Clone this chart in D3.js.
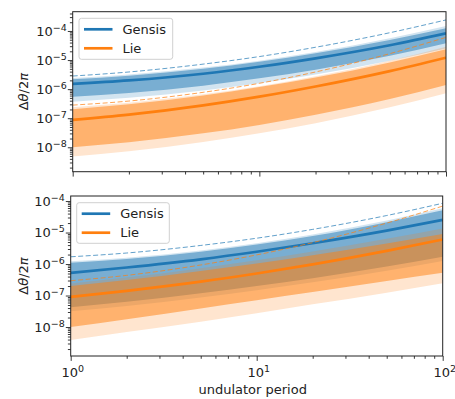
<!DOCTYPE html>
<html>
<head>
<meta charset="utf-8">
<script src="https://cdn.jsdelivr.net/npm/d3@7"></script>
<style>
  body { margin: 0; background: #fff; }
  svg { font-family: "DejaVu Sans", sans-serif; }
</style>
</head>
<body>
<svg width="455" height="399"></svg>
<script>
var periods = [1, 2, 5, 10, 20, 50, 100];

// all series below are log10(Δθ/2π)
// top panel, Gensis
var topGensisDash = [-5.55, -5.41, -5.14, -4.88, -4.56, -4.06, -3.62];
var topGensisHi2  = [-5.62, -5.50, -5.26, -5.02, -4.72, -4.25, -3.83];
var topGensisHi1  = [-5.66, -5.54, -5.30, -5.06, -4.77, -4.31, -3.91];
var topGensisMid  = [-5.82, -5.70, -5.47, -5.23, -4.94, -4.49, -4.08];
var topGensisLo1  = [-6.26, -6.13, -5.88, -5.63, -5.33, -4.85, -4.42];
var topGensisLo2  = [-6.43, -6.30, -6.05, -5.80, -5.50, -5.02, -4.60];
// top panel, Lie
var topLieDash = [-6.55, -6.41, -6.11, -5.80, -5.41, -4.78, -4.22];
var topLieHi2  = [-6.62, -6.47, -6.18, -5.90, -5.56, -5.02, -4.54];
var topLieHi1  = [-6.69, -6.52, -6.22, -5.93, -5.60, -5.08, -4.63];
var topLieMid  = [-7.06, -6.88, -6.56, -6.26, -5.91, -5.38, -4.92];
var topLieLo1  = [-8.00, -7.83, -7.52, -7.23, -6.88, -6.34, -5.86];
var topLieLo2  = [-8.32, -8.14, -7.82, -7.52, -7.17, -6.62, -6.14];
// bottom panel, Gensis
var botGensisDash = [-5.77, -5.65, -5.41, -5.18, -4.90, -4.46, -4.07];
var botGensisHi2  = [-5.91, -5.80, -5.57, -5.34, -5.06, -4.62, -4.23];
var botGensisHi1  = [-5.96, -5.84, -5.61, -5.38, -5.11, -4.67, -4.29];
var botGensisMid  = [-6.28, -6.11, -5.85, -5.61, -5.34, -4.94, -4.60];
var botGensisLo1  = [-7.37, -7.20, -6.93, -6.70, -6.45, -6.08, -5.77];
var botGensisLo2  = [-7.50, -7.33, -7.06, -6.83, -6.58, -6.21, -5.90];
// bottom panel, Lie
var botLieDash = [-6.53, -6.36, -6.03, -5.71, -5.32, -4.70, -4.16];
var botLieHi2  = [-6.62, -6.43, -6.13, -5.88, -5.60, -5.20, -4.87];
var botLieHi1  = [-6.70, -6.51, -6.22, -5.98, -5.72, -5.35, -5.05];
var botLieMid  = [-7.04, -6.85, -6.56, -6.30, -6.01, -5.58, -5.22];
var botLieLo1  = [-8.00, -7.75, -7.41, -7.15, -6.89, -6.54, -6.28];
var botLieLo2  = [-8.41, -8.16, -7.83, -7.56, -7.28, -6.91, -6.61];

var seriesNames = ['Gensis', 'Lie'];
var colors = {Gensis: '#1f77b4', Lie: '#ff7f0e'};
var majorY = [-8, -7, -6, -5, -4];
var majorX = [0, 1, 2];

function makeSeries(name, dash, hi2, hi1, mid, lo1, lo2) {
  return {
    name: name,
    rows: periods.map((p, i) => ({
      x: p,
      dash: Math.pow(10, dash[i]), hi2: Math.pow(10, hi2[i]), hi1: Math.pow(10, hi1[i]),
      mid: Math.pow(10, mid[i]), lo1: Math.pow(10, lo1[i]), lo2: Math.pow(10, lo2[i])
    }))
  };
}

var panels = [
  {
    left: 72.7, right: 446, top: 11.7, bottom: 171.7,
    yDomain: [Math.pow(10, -8.84), Math.pow(10, -3.337)],
    showX: false, legend: {x: 79, y: 18.3, w: 93.7, h: 41},
    series: [
      makeSeries('Gensis', topGensisDash, topGensisHi2, topGensisHi1, topGensisMid, topGensisLo1, topGensisLo2),
      makeSeries('Lie', topLieDash, topLieHi2, topLieHi1, topLieMid, topLieLo1, topLieLo2)
    ]
  },
  {
    left: 70.7, right: 442.7, top: 196, bottom: 356,
    yDomain: [Math.pow(10, -8.92), Math.pow(10, -3.84)],
    showX: true, legend: {x: 76.7, y: 202.7, w: 92.6, h: 40.6},
    series: [
      makeSeries('Gensis', botGensisDash, botGensisHi2, botGensisHi1, botGensisMid, botGensisLo1, botGensisLo2),
      makeSeries('Lie', botLieDash, botLieHi2, botLieHi1, botLieMid, botLieLo1, botLieLo2)
    ]
  }
];

var svg = d3.select('svg');

function powLabel(sel, exp) {
  sel.append('tspan').text('10');
  sel.append('tspan').attr('dy', -5).style('font-size', '9.5px').text(exp < 0 ? '\u2212' + (-exp) : exp);
}

panels.forEach((pn, pi) => {
  var x = d3.scaleLog().domain([1, 100]).range([pn.left, pn.right]);
  var y = d3.scaleLog().domain(pn.yDomain).range([pn.bottom, pn.top]);

  var clipId = 'clip' + pi;
  svg.append('clipPath').attr('id', clipId)
    .append('rect')
    .attr('x', pn.left).attr('y', pn.top)
    .attr('width', pn.right - pn.left).attr('height', pn.bottom - pn.top);

  var g = svg.append('g').attr('clip-path', 'url(#' + clipId + ')');

  var band = (lo, hi) => d3.area().curve(d3.curveMonotoneX)
    .x(d => x(d.x)).y0(d => y(d[lo])).y1(d => y(d[hi]));
  var line = key => d3.line().curve(d3.curveMonotoneX)
    .x(d => x(d.x)).y(d => y(d[key]));

  pn.series.forEach(s => {
    var c = colors[s.name];
    g.append('path').datum(s.rows).attr('d', band('lo2', 'hi2'))
      .attr('fill', c).attr('fill-opacity', 0.2);
    g.append('path').datum(s.rows).attr('d', band('lo1', 'hi1'))
      .attr('fill', c).attr('fill-opacity', 0.5);
    g.append('path').datum(s.rows).attr('d', line('mid'))
      .attr('fill', 'none').attr('stroke', c).attr('stroke-width', 2.7);
    g.append('path').datum(s.rows).attr('d', line('dash'))
      .attr('fill', 'none').attr('stroke', c).attr('stroke-opacity', 0.7)
      .attr('stroke-width', 1).attr('stroke-dasharray', '5,2.5');
  });

  // minor ticks
  var minorX = [];
  [1, 10].forEach(b => d3.range(2, 10).forEach(m => minorX.push(b * m)));
  var minorY = [];
  d3.range(-9, -3).forEach(e => d3.range(2, 10).forEach(m => {
    var v = m * Math.pow(10, e);
    if (v > pn.yDomain[0] && v < pn.yDomain[1]) minorY.push(v);
  }));

  var xAxis = svg.append('g').attr('transform', 'translate(0,' + pn.bottom + ')');
  xAxis.call(d3.axisBottom(x).tickValues(minorX).tickSize(2.8).tickFormat(''));
  xAxis.append('g').call(d3.axisBottom(x).tickValues(majorX.map(e => Math.pow(10, e))).tickSize(4.9).tickFormat(''));

  var yAxis = svg.append('g').attr('transform', 'translate(' + pn.left + ',0)');
  yAxis.call(d3.axisLeft(y).tickValues(minorY).tickSize(2.8).tickFormat(''));
  yAxis.append('g').call(d3.axisLeft(y).tickValues(majorY.map(e => Math.pow(10, e))).tickSize(4.9).tickFormat(''));

  svg.selectAll('.domain').remove();
  svg.selectAll('.tick line').attr('stroke', '#222').attr('stroke-width', 0.9);

  // frame
  svg.append('rect')
    .attr('x', pn.left).attr('y', pn.top)
    .attr('width', pn.right - pn.left).attr('height', pn.bottom - pn.top)
    .attr('fill', 'none').attr('stroke', '#222').attr('stroke-width', 1);

  // y tick labels
  majorY.forEach(e => {
    var t = svg.append('text')
      .attr('x', pn.left - 6).attr('y', y(Math.pow(10, e)) + 4.8)
      .attr('text-anchor', 'end').style('font-size', '13px').attr('fill', '#222');
    powLabel(t, e);
  });

  if (pn.showX) {
    majorX.forEach(e => {
      var t = svg.append('text')
        .attr('x', x(Math.pow(10, e)) + 2).attr('y', pn.bottom + 21)
        .attr('text-anchor', 'middle').style('font-size', '13px').attr('fill', '#222');
      powLabel(t, e);
    });
    svg.append('text')
      .attr('x', (pn.left + pn.right) / 2 - 4).attr('y', pn.bottom + 37.5)
      .attr('text-anchor', 'middle').style('font-size', '13px').attr('fill', '#222')
      .text('undulator period');
  }

  // y label
  var yl = svg.append('text')
    .attr('transform', 'translate(27.5,' + ((pn.top + pn.bottom) / 2) + ') rotate(-90)')
    .attr('text-anchor', 'middle').style('font-size', '13px').attr('fill', '#222');
  yl.append('tspan').text('\u0394');
  yl.append('tspan').style('font-style', 'italic').text('\u03b8');
  yl.append('tspan').text('/2');
  yl.append('tspan').style('font-style', 'italic').text('\u03c0');

  // legend
  var L = pn.legend;
  svg.append('rect')
    .attr('x', L.x).attr('y', L.y).attr('width', L.w).attr('height', L.h)
    .attr('rx', 2.5).attr('fill', '#fff').attr('fill-opacity', 0.8)
    .attr('stroke', '#d0d0d0').attr('stroke-width', 1);
  seriesNames.forEach((n, i) => {
    var ly = L.y + 11 + i * 19;
    svg.append('line')
      .attr('x1', L.x + 5).attr('x2', L.x + 33.5).attr('y1', ly).attr('y2', ly)
      .attr('stroke', colors[n]).attr('stroke-width', 2.7);
    svg.append('text')
      .attr('x', L.x + 43.5).attr('y', ly + 4.7)
      .style('font-size', '13px').attr('fill', '#222').text(n);
  });
});
</script>
</body>
</html>
